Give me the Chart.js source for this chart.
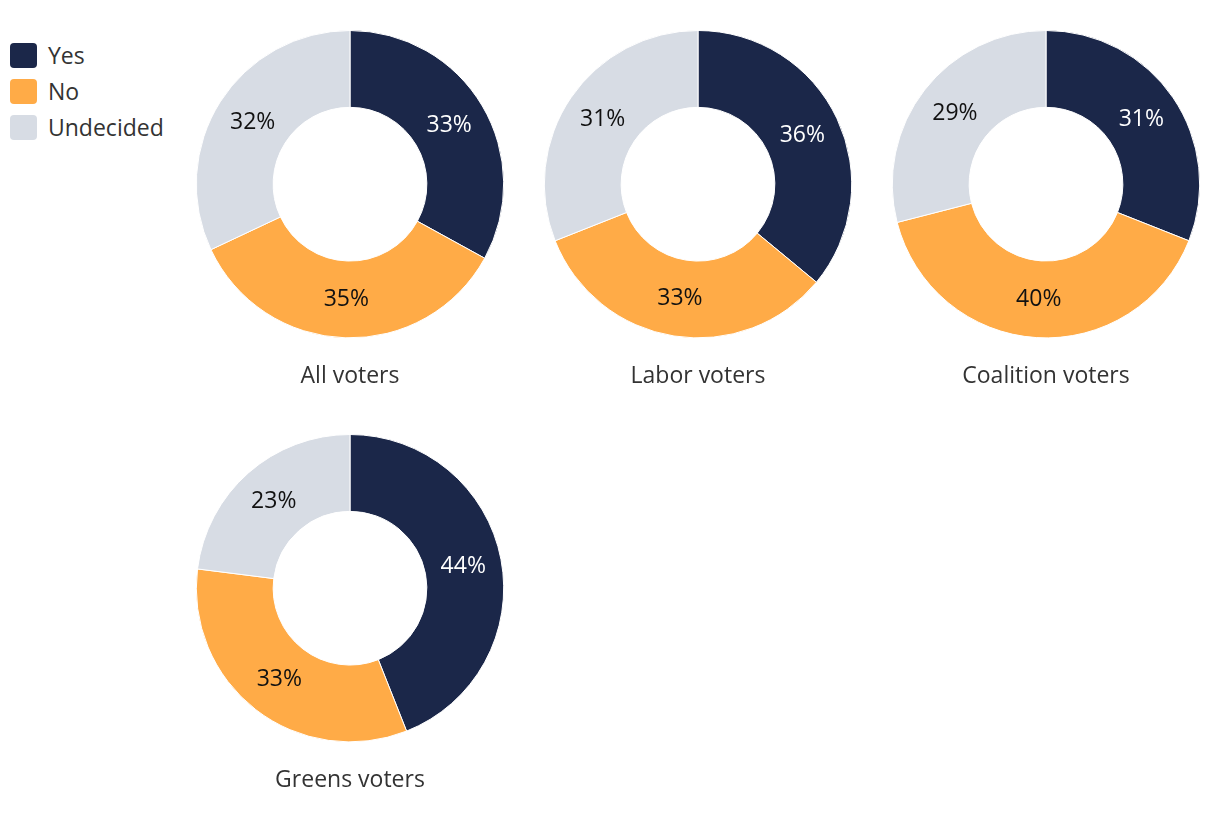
<!DOCTYPE html>
<html><head><meta charset="utf-8">
<script src="https://cdn.jsdelivr.net/npm/chart.js@4.4.1/dist/chart.umd.min.js"></script>
<style>
html,body{margin:0;padding:0;background:#fff;width:1220px;height:828px;overflow:hidden;font-family:"Open Sans",sans-serif;}
canvas{position:absolute;}
#legend{position:absolute;left:10px;top:37px;}
.li{display:flex;align-items:center;height:36px;font-size:23px;color:#333;}
.sw{width:27px;height:25px;border-radius:4px;margin-right:11px;}
</style></head>
<body>
<div id="legend"></div>
<canvas id="c0" width="348" height="360" style="left:176px;top:30px"></canvas>
<canvas id="c1" width="348" height="360" style="left:524px;top:30px"></canvas>
<canvas id="c2" width="348" height="360" style="left:872px;top:30px"></canvas>
<canvas id="c3" width="348" height="360" style="left:176px;top:434px"></canvas>
<script>
const categories = ["Yes", "No", "Undecided"];
const groups = ["All voters", "Labor voters", "Coalition voters", "Greens voters"];
const allVoters = [33, 35, 32];
const laborVoters = [36, 33, 31];
const coalitionVoters = [31, 40, 29];
const greensVoters = [44, 33, 23];
const seriesValues = [allVoters, laborVoters, coalitionVoters, greensVoters];
const colors = ["#1b2749", "#ffab47", "#d7dce4"];
const labelColors = ["#ffffff", "#111111", "#111111"];
const FONT = '"Open Sans", sans-serif';

const legend = document.getElementById('legend');
categories.forEach((c, i) => {
  const d = document.createElement('div'); d.className = 'li';
  d.innerHTML = '<span class="sw" style="background:' + colors[i] + '"></span><span>' + c + '</span>';
  legend.appendChild(d);
});

const arcLabels = {
  id: 'arcLabels',
  afterDatasetsDraw(chart) {
    const ctx = chart.ctx;
    const meta = chart.getDatasetMeta(0);
    ctx.save();
    ctx.font = '23px ' + FONT;
    ctx.textAlign = 'center';
    ctx.textBaseline = 'middle';
    meta.data.forEach((arc, i) => {
      const p = arc.tooltipPosition();
      ctx.fillStyle = labelColors[i];
      ctx.fillText(chart.data.datasets[0].data[i] + '%', p.x, p.y);
    });
    ctx.restore();
  }
};

seriesValues.forEach((vals, k) => {
  new Chart(document.getElementById('c' + k), {
    type: 'doughnut',
    data: {
      labels: categories,
      datasets: [{ data: vals, backgroundColor: colors, borderColor: '#ffffff', borderWidth: 1 }]
    },
    options: {
      responsive: false,
      animation: false,
      cutout: '50%',
      layout: { padding: 0 },
      plugins: {
        legend: { display: false },
        tooltip: { enabled: false },
        title: {
          display: true, text: groups[k], position: 'bottom',
          color: '#333', font: { family: FONT, size: 23, weight: 'normal', lineHeight: 1.2 },
          padding: { top: 24, bottom: 0 }
        }
      }
    },
    plugins: [arcLabels]
  });
});
</script>
</body></html>
